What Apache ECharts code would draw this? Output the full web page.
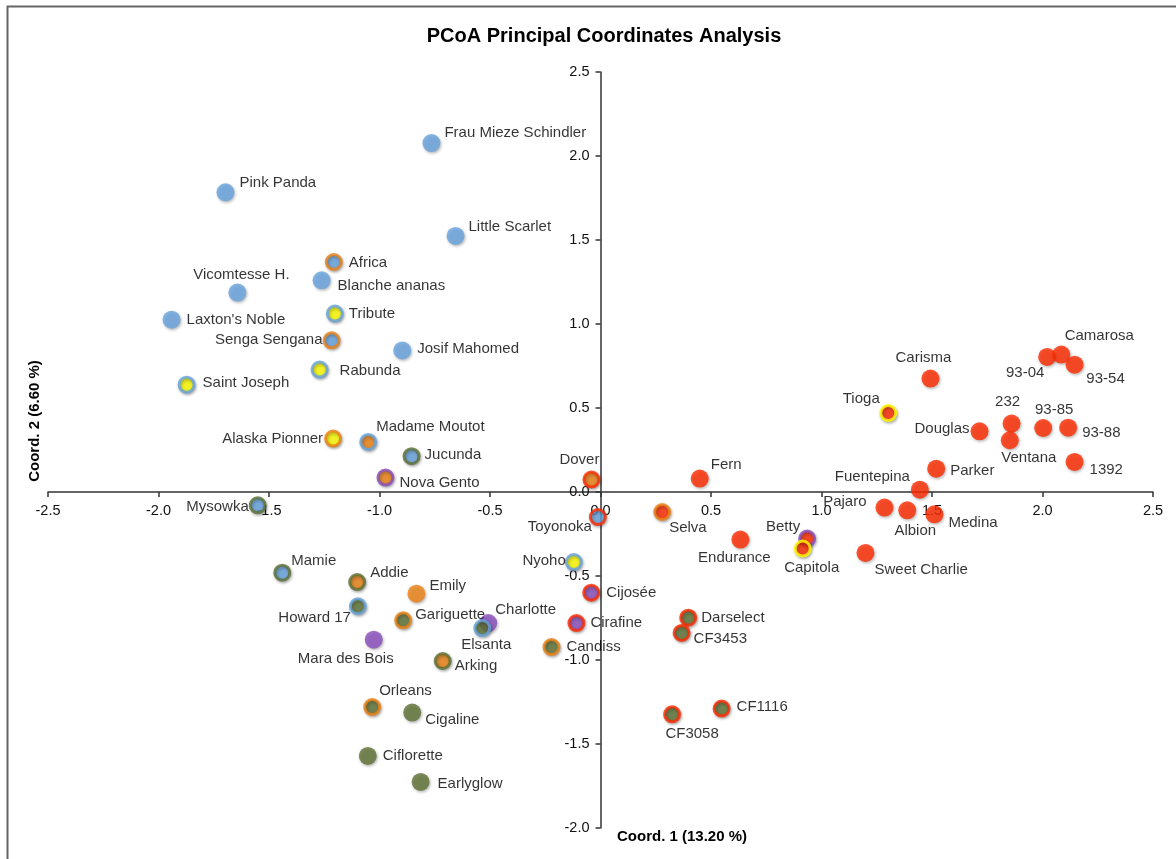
<!DOCTYPE html>
<html>
<head>
<meta charset="utf-8">
<script src="https://cdn.jsdelivr.net/npm/echarts@6/dist/echarts.min.js"></script>
<style>
html,body{margin:0;padding:0;background:#fff;}
#chart{width:1176px;height:859px;}
</style>
</head>
<body>
<div id="chart"></div>
<script>
// ---- data ----
const names = ['Frau Mieze Schindler','Pink Panda','Little Scarlet','Africa','Blanche ananas','Vicomtesse H.','Tribute',"Laxton's Noble",'Senga Sengana','Josif Mahomed','Rabunda','Saint Joseph',
  'Alaska Pionner','Madame Moutot','Jucunda','Nova Gento','Dover','Mysowka','Toyonoka','Nyoho','Mamie','Addie','Emily','Cijosée',
  'Howard 17','Gariguette','Charlotte','Elsanta','Mara des Bois','Cirafine','Candiss','Arking','Orleans','Cigaline','Ciflorette','Earlyglow',
  'Darselect','CF3453','CF1116','CF3058','Fern','Selva','Endurance','Betty','Capitola','Sweet Charlie','Pajaro','Albion','Medina','Fuentepina','Parker',
  'Carisma','Tioga','Douglas','232','Ventana','93-85','93-88','1392','93-04','Camarosa','93-54'];
const coord1 = [-0.765,-1.697,-0.656,-1.207,-1.262,-1.643,-1.202,-1.941,-1.217,-0.897,-1.271,-1.873,
  -1.210,-1.051,-0.855,-0.973,-0.041,-1.551,-0.012,-0.121,-1.440,-1.101,-0.833,-0.042,
  -1.098,-0.893,-0.508,-0.535,-1.026,-0.109,-0.222,-0.714,-1.033,-0.852,-1.053,-0.814,
  0.397,0.367,0.548,0.324,0.449,0.279,0.633,0.935,0.915,1.199,1.285,1.388,1.511,1.445,1.519,
  1.493,1.302,1.715,1.860,1.852,2.003,2.116,2.145,2.021,2.085,2.145];
const coord2 = [2.077,1.784,1.524,1.369,1.260,1.187,1.062,1.026,0.903,0.843,0.729,0.639,
  0.318,0.298,0.213,0.086,0.074,-0.079,-0.149,-0.417,-0.480,-0.536,-0.605,-0.599,
  -0.680,-0.764,-0.780,-0.810,-0.879,-0.780,-0.923,-1.006,-1.280,-1.313,-1.571,-1.726,
  -0.748,-0.839,-1.289,-1.323,0.080,-0.119,-0.283,-0.277,-0.337,-0.363,-0.093,-0.109,-0.133,0.014,0.139,
  0.675,0.470,0.361,0.407,0.308,0.381,0.383,0.179,0.804,0.818,0.758];
// group of the fill (inner) and ring (outer); '' = no ring
const fillGroup = ['B','B','B','B','B','B','Y','B','B','B','Y','Y',
  'Y','O','B','O','O','B','B','Y','B','O','O','P',
  'G','G','P','G','P','P','G','O','G','G','G','G',
  'G','G','G','G','R','R','R','R','R','R','R','R','R','R','R',
  'R','R','R','R','R','R','R','R','R','R','R'];
const ringGroup = ['','','','O','','','B','','O','','B','B',
  'O','B','G','P','R','G','R','B','G','G','','R',
  'B','O','','B','','R','O','G','O','','','',
  'R','R','R','R','','O','','P','Y','','','','','','',
  '','Y','','','','','','','','',''];
const xTickValues = [-2.5,-2.0,-1.5,-1.0,-0.5,0.0,0.5,1.0,1.5,2.0,2.5];
const yTickValues = [-2.0,-1.5,-1.0,-0.5,0.0,0.5,1.0,1.5,2.0,2.5];
const titleText = 'PCoA Principal Coordinates Analysis';
const xName = 'Coord. 1 (13.20 %)';
const yName = 'Coord. 2 (6.60 %)';

// ---- styles / layout ----
const palette = {B:'#67a4e0', R:'#ff2a00', O:'#ee8214', G:'#5e7235', P:'#8a4dbe', Y:'#ffff00'};
const labelLayout = {
  'Frau Mieze Schindler':['left',13,-10],'Pink Panda':['left',14,-9],'Little Scarlet':['left',13,-9],
  'Africa':['left',15,1],'Blanche ananas':['left',16,6],'Vicomtesse H.':['center',4,-18],
  'Tribute':['left',14,0],"Laxton's Noble":['left',15,0],'Senga Sengana':['right',-9,0],
  'Josif Mahomed':['left',15,-2],'Rabunda':['left',20,1],'Saint Joseph':['left',16,-2],
  'Alaska Pionner':['right',-10,0],'Madame Moutot':['left',8,-15],'Jucunda':['left',13,-1],
  'Nova Gento':['left',14,5],'Dover':['center',-12,-20],'Mysowka':['right',-9,2],
  'Toyonoka':['right',-6,10],'Nyoho':['right',-8,-1],'Mamie':['left',9,-12],
  'Addie':['left',13,-9],'Emily':['left',13,-8],'Cijosée':['left',15,0],
  'Howard 17':['right',-7,12],'Gariguette':['left',12,-5],'Charlotte':['left',7,-13],
  'Elsanta':['center',4,17],'Mara des Bois':['center',-28,19],'Cirafine':['left',14,0],
  'Candiss':['left',15,0],'Arking':['left',12,5],'Orleans':['left',7,-16],
  'Cigaline':['left',13,7],'Ciflorette':['left',15,0],'Earlyglow':['left',17,2],
  'Darselect':['left',13,0],'CF3453':['left',12,6],'CF1116':['left',15,-2],
  'CF3058':['center',20,20],'Fern':['left',11,-14],'Selva':['left',7,16],
  'Endurance':['center',-6,18],'Betty':['right',-7,-12],'Capitola':['center',9,19],
  'Sweet Charlie':['left',9,17],'Pajaro':['right',-18,-6],'Albion':['center',8,21],
  'Medina':['left',14,9],'Fuentepina':['right',-10,-13],'Parker':['left',14,2],
  'Carisma':['center',-7,-21],'Tioga':['center',-27,-14],'Douglas':['right',-10,-2],
  '232':['center',-4,-22],'Ventana':['center',19,18],'93-85':['center',11,-18],
  '93-88':['left',14,5],'1392':['left',15,8],'93-04':['center',-22,16],
  'Camarosa':['center',38,-19],'93-54':['center',31,14]
};
const FONT = '"Liberation Sans", Arial, Helvetica, sans-serif';
const GRID = {left: 48, right: 23, top: 72, bottom: 31};
const W = 1176, H = 859;

const seriesData = names.map((n, i) => {
  const ring = ringGroup[i];
  const fill = palette[fillGroup[i]];
  const lay = labelLayout[n] || ['left', 14, 0];
  return {
    name: n,
    value: [coord1[i], coord2[i]],
    symbolSize: ring ? 15 : 18,
    itemStyle: {
      color: fill,
      borderColor: ring ? palette[ring] : fill,
      borderWidth: ring ? 3 : 0
    },
    label: {
      show: true,
      position: 'inside',
      align: lay[0],
      verticalAlign: 'middle',
      offset: [lay[1], lay[2]],
      formatter: '{b}',
      color: '#000',
      fontSize: 15,
      fontFamily: FONT,
      textBorderWidth: 0
    }
  };
});

const xMin = xTickValues[0], xMax = xTickValues[xTickValues.length - 1];
const yMin = yTickValues[0], yMax = yTickValues[yTickValues.length - 1];
const gridW = W - GRID.left - GRID.right, gridH = H - GRID.top - GRID.bottom;
// place each axis where the other axis is zero (axes cross at the origin)
const yAxisOffset = -gridW * (0 - xMin) / (xMax - xMin);
const xAxisOffset = -gridH * (0 - yMin) / (yMax - yMin);

const chart = echarts.init(document.getElementById('chart'), null, {renderer: 'canvas'});
const axisCommon = {
  type: 'value',
  axisLine: {show: true, onZero: false, lineStyle: {color: '#333', width: 1.5}},
  axisTick: {show: true, length: 5, lineStyle: {color: '#333', width: 1.5}},
  splitLine: {show: false},
  axisLabel: {color: '#111', fontSize: 14.5, fontFamily: FONT, margin: 11,
    showMinLabel: true, showMaxLabel: true, hideOverlap: false, formatter: v => v.toFixed(1)}
};
chart.setOption({
  animation: false,
  backgroundColor: '#fff',
  title: {
    text: titleText, left: 599, top: 21, textAlign: 'center',
    textStyle: {fontSize: 20, fontWeight: 'bold', color: '#000', fontFamily: FONT}
  },
  grid: Object.assign({containLabel: false}, GRID),
  xAxis: Object.assign({}, axisCommon, {
    position: 'bottom', offset: xAxisOffset,
    min: xMin, max: xMax, interval: xTickValues[1] - xTickValues[0]
  }),
  yAxis: Object.assign({}, axisCommon, {
    position: 'left', offset: yAxisOffset,
    min: yMin, max: yMax, interval: yTickValues[1] - yTickValues[0]
  }),
  graphic: [
    {type: 'rect', silent: true, z: -1, shape: {x: 7.5, y: 6.5, width: 1400, height: 1200},
      style: {fill: 'none', stroke: '#666', lineWidth: 2}},
    {type: 'text', x: 617, y: 837, silent: true,
      style: {text: xName, align: 'left', verticalAlign: 'middle', fill: '#000',
        font: 'bold 15px ' + FONT}},
    {type: 'text', x: 35, y: 421, rotation: Math.PI / 2, silent: true,
      style: {text: yName, align: 'center', verticalAlign: 'middle', fill: '#000',
        font: 'bold 15px ' + FONT}}
  ],
  series: [{
    type: 'scatter',
    data: seriesData,
    itemStyle: {shadowBlur: 3, shadowOffsetX: 1, shadowOffsetY: 1.5, shadowColor: 'rgba(0,0,0,0.35)'},
    emphasis: {disabled: true}
  }]
});
</script>
</body>
</html>
